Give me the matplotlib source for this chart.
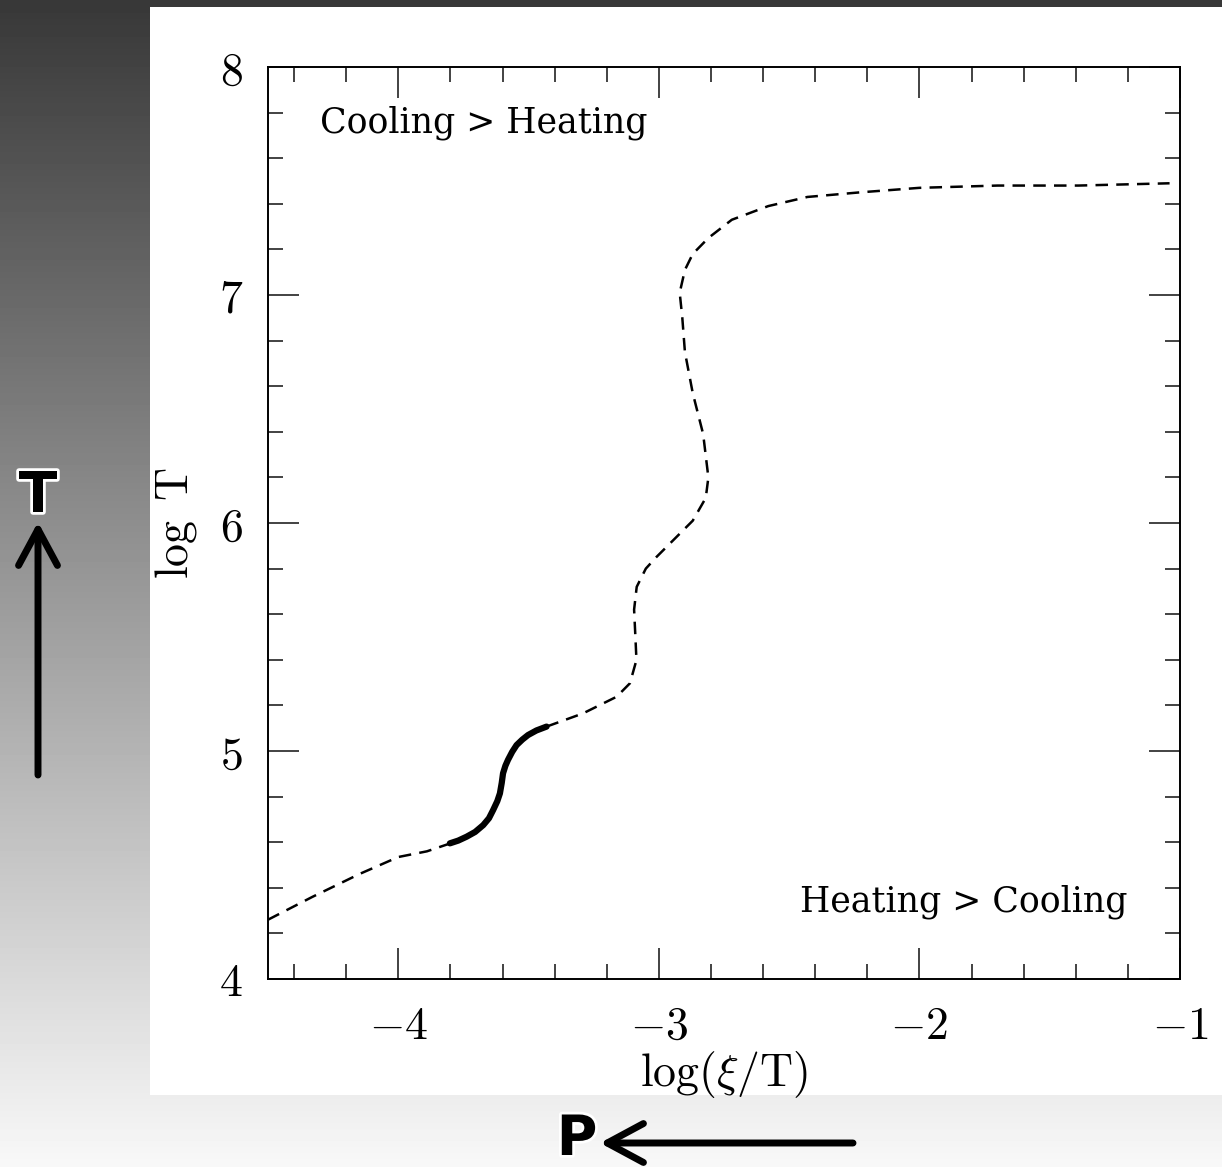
import numpy as np
import matplotlib
matplotlib.use('Agg')
import matplotlib.pyplot as plt
import matplotlib.patheffects as pe
from matplotlib.patches import Rectangle
from matplotlib.ticker import MultipleLocator, FuncFormatter

plt.rcParams['mathtext.fontset'] = 'cm'

# equilibrium curve
# lower dashed branch
low_x = [-4.50, -4.33, -4.15, -4.00, -3.89, -3.80]
low_y = [4.26, 4.36, 4.46, 4.535, 4.56, 4.595]
# stable (solid) branch
mid_x = [-3.802, -3.770, -3.738, -3.705, -3.674, -3.652, -3.636, -3.620, -3.610,
         -3.603, -3.598, -3.589, -3.579, -3.563, -3.546, -3.524, -3.502, -3.470, -3.431]
mid_y = [4.595, 4.607, 4.624, 4.645, 4.675, 4.705, 4.741, 4.780, 4.814,
         4.860, 4.902, 4.935, 4.961, 4.996, 5.026, 5.050, 5.070, 5.090, 5.107]
# upper dashed branch
up_x = [-3.431, -3.291, -3.162, -3.111, -3.086, -3.090, -3.095, -3.085, -3.050, -3.010,
        -2.940, -2.870, -2.820, -2.810, -2.830, -2.870, -2.900, -2.910, -2.920, -2.900,
        -2.870, -2.810, -2.720, -2.580, -2.430, -2.230, -2.000, -1.700, -1.390, -1.040]
up_y = [5.107, 5.165, 5.238, 5.297, 5.399, 5.500, 5.620, 5.720, 5.800, 5.850,
        5.930, 6.010, 6.110, 6.200, 6.390, 6.570, 6.750, 6.900, 7.010, 7.110,
        7.180, 7.250, 7.330, 7.390, 7.430, 7.450, 7.470, 7.480, 7.480, 7.490]

x_ticks = [-4, -3, -2, -1]
y_ticks = [4, 5, 6, 7, 8]

W, H = 1222, 1167
fig = plt.figure(figsize=(W / 100, H / 100), dpi=100)

# slide background: vertical grey gradient + white panel
bg = fig.add_axes([0, 0, 1, 1], zorder=0)
grad = np.linspace(56, 248, 256) / 255
bg.imshow(np.repeat(grad[:, None], 2, axis=1), cmap='gray', vmin=0, vmax=1,
          aspect='auto', extent=[0, W, H, 0], interpolation='bilinear')
bg.set_xlim(0, W)
bg.set_ylim(H, 0)
bg.axis('off')
bg.add_patch(Rectangle((150, 7), W - 150, 1088, facecolor='white', edgecolor='none'))

arrow = dict(arrowstyle='->,head_length=1.3,head_width=0.7', lw=5, color='black',
             shrinkA=0, shrinkB=0, mutation_scale=20)
bg.annotate('', xy=(38, 522), xytext=(38, 775), arrowprops=arrow)
bg.annotate('', xy=(600, 1143), xytext=(853, 1143), arrowprops=arrow)
glow = [pe.withStroke(linewidth=4, foreground='white')]
bg.text(38, 497, 'T', ha='center', va='center', fontsize=40, fontweight='bold',
        path_effects=glow)
bg.text(577, 1140, 'P', ha='center', va='center', fontsize=40, fontweight='bold',
        path_effects=glow)

# the plot itself
ax = fig.add_axes([268 / W, 1 - 979 / H, (1180 - 268) / W, (979 - 67) / H], zorder=1)
dash = (5.0, 3.3)
ax.plot(low_x, low_y, color='black', lw=1.8, dashes=dash)
ax.plot(up_x, up_y, color='black', lw=1.8, dashes=dash)
ax.plot(mid_x, mid_y, color='black', lw=4.5, solid_capstyle='round',
        solid_joinstyle='round')

ax.set_xlim(-4.5, -1)
ax.set_ylim(4, 8)
ax.set_xticks(x_ticks)
ax.set_yticks(y_ticks)
ax.xaxis.set_minor_locator(MultipleLocator(0.2))
ax.yaxis.set_minor_locator(MultipleLocator(0.2))
fmt = FuncFormatter(lambda v, p: r'$%d$' % round(v))
ax.xaxis.set_major_formatter(fmt)
ax.yaxis.set_major_formatter(fmt)
ax.tick_params(which='both', direction='in', top=True, right=True, width=1.2,
               color='#222222')
ax.tick_params(which='major', length=22, labelsize=33, pad=18)
ax.tick_params(which='minor', length=11)
for s in ax.spines.values():
    s.set_linewidth(1.4)

ax.set_xlabel(r'$\log(\xi/\mathrm{T})$', fontsize=33, labelpad=0)
ax.set_ylabel(r'$\log\ \mathrm{T}$', fontsize=33, labelpad=14)

ax.text(0.057, 0.928, 'Cooling > Heating', transform=ax.transAxes,
        family='DejaVu Serif', fontsize=25, va='baseline', ha='left')
ax.text(0.942, 0.0735, 'Heating > Cooling', transform=ax.transAxes,
        family='DejaVu Serif', fontsize=25, va='baseline', ha='right')

fig.savefig('out.png', dpi=100)
